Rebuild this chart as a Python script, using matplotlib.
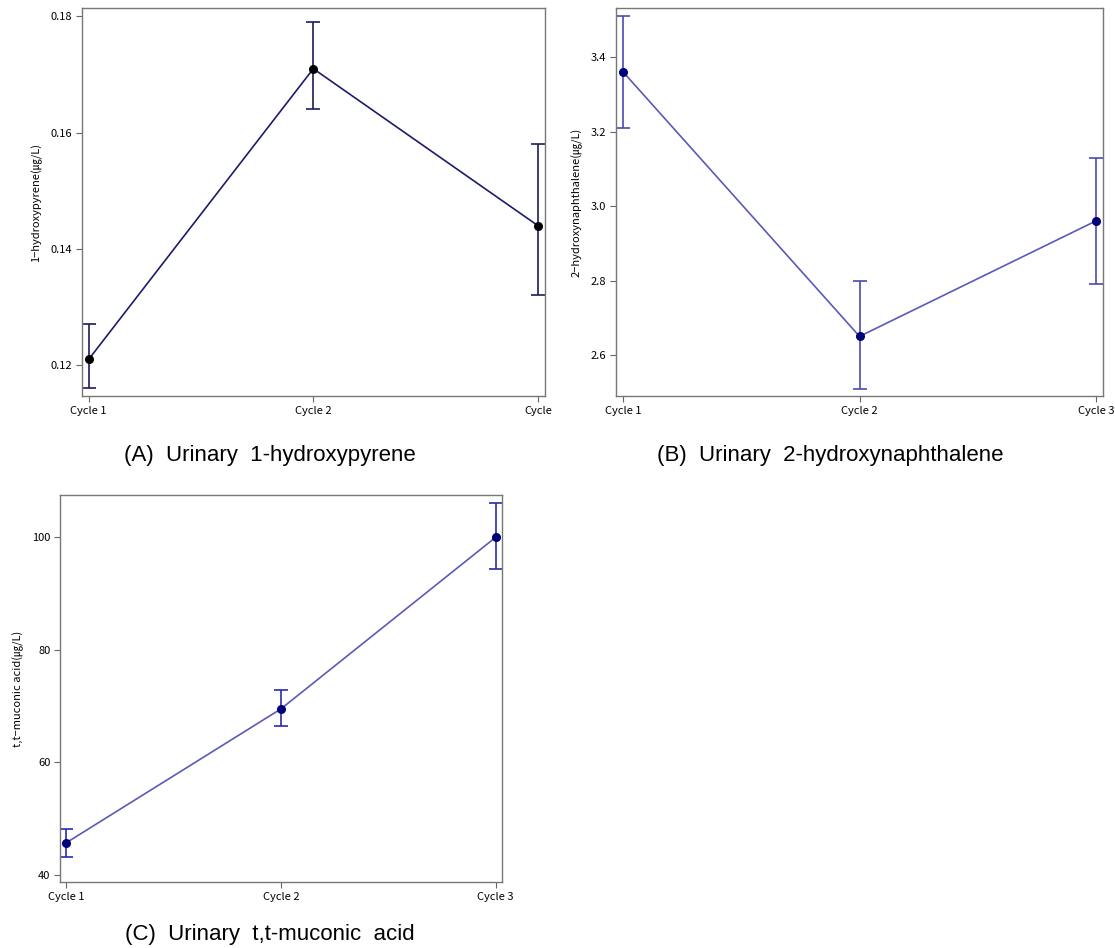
import matplotlib
matplotlib.use("Agg")
import matplotlib.pyplot as plt

plt.rcParams['font.family'] = ['Noto Sans CJK KR', 'DejaVu Sans']

cycles = [0, 1, 2]
labels_a = ["Cycle 1", "Cycle 2", "Cycle"]
labels_bc = ["Cycle 1", "Cycle 2", "Cycle 3"]

# (A) 1-hydroxypyrene
a_mean = [0.121, 0.171, 0.144]
a_low = [0.116, 0.164, 0.132]
a_high = [0.127, 0.179, 0.158]
a_ticks = [0.12, 0.14, 0.16, 0.18]

# (B) 2-hydroxynaphthalene
b_mean = [3.36, 2.65, 2.96]
b_low = [3.21, 2.51, 2.79]
b_high = [3.51, 2.80, 3.13]
b_ticks = [2.6, 2.8, 3.0, 3.2, 3.4]

# (C) t,t-muconic acid
c_mean = [45.7, 69.5, 100.0]
c_low = [43.2, 66.4, 94.4]
c_high = [48.2, 72.9, 106.1]
c_ticks = [40, 60, 80, 100]

fig = plt.figure(figsize=(11.15, 9.48), dpi=100)


def panel(rect, mean, low, high, ticks, ylim, ylab, xlabels, fmt,
          line_c, mk_c, err_c, capt, capt_xy):
    ax = fig.add_axes(rect)
    yerr = [[m - l for m, l in zip(mean, low)], [h - m for m, h in zip(mean, high)]]
    ax.errorbar(cycles, mean, yerr=yerr, fmt='none', ecolor=err_c,
                elinewidth=1.2, capsize=5, capthick=1.2, zorder=2)
    ax.plot(cycles, mean, color=line_c, lw=1.2, zorder=3)
    ax.plot(cycles, mean, 'o', color=mk_c, ms=5.5, zorder=4)
    ax.set_xlim(-0.03, 2.03)
    ax.set_ylim(*ylim)
    ax.set_xticks(cycles)
    ax.set_xticklabels(xlabels, fontsize=8)
    ax.set_yticks(ticks)
    ax.set_yticklabels([fmt.format(t) for t in ticks], fontsize=8)
    ax.set_ylabel(ylab, fontsize=8, labelpad=6)
    ax.tick_params(direction='out', length=4, color='#666666', pad=3)
    for s in ax.spines.values():
        s.set_color('#777777')
        s.set_linewidth(1.0)
    fig.text(capt_xy[0], capt_xy[1], capt, ha='center', va='center',
             fontsize=16, family=['Liberation Sans', 'DejaVu Sans'])
    return ax


panel([0.0735, 0.5823, 0.415, 0.409], a_mean, a_low, a_high, a_ticks,
      (0.1147, 0.1814), "1\u2212hydroxypyrene(\u338d/L)", labels_a, "{:.2f}",
      '#1c1c6a', '#000000', '#1c1c5a',
      "(A)  Urinary  1-hydroxypyrene", (0.242, 0.519))

panel([0.5525, 0.5823, 0.4368, 0.409], b_mean, b_low, b_high, b_ticks,
      (2.490, 3.531), "2\u2212hydroxynaphthalene(\u338d/L)", labels_bc, "{:.1f}",
      '#5a5ab8', '#00007a', '#4a4ab0',
      "(B)  Urinary  2-hydroxynaphthalene", (0.745, 0.519))

panel([0.0538, 0.0696, 0.3964, 0.408], c_mean, c_low, c_high, c_ticks,
      (38.7, 107.5), "t,t\u2212muconic acid(\u338d/L)", labels_bc, "{:.0f}",
      '#5a5ab8', '#00007a', '#2a2ab0',
      "(C)  Urinary  t,t-muconic  acid", (0.242, 0.014))

fig.savefig("out.png", dpi=100)
